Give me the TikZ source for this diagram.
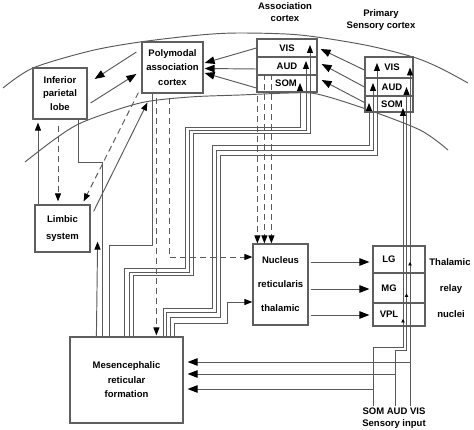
\documentclass[tikz,border=0pt]{standalone}
\usepackage{fontspec}
\setmainfont{Liberation Sans}
\usetikzlibrary{arrows.meta,calc,decorations.markings}
\definecolor{lc}{RGB}{90,90,90}
\definecolor{bc}{RGB}{95,95,95}
\begin{document}
\begin{tikzpicture}[x=1pt,y=-1pt,
  ln/.style={draw=lc,line width=0.95pt},
  arr/.style={ln,-{Triangle[length=10pt,width=7.5pt,color=black]}},
  sarr/.style={ln,-{Triangle[length=8pt,width=6pt,color=black]}},
  dsh/.style={dash pattern=on 6pt off 4pt},
  box/.style={draw=bc,line width=1.2pt,inner sep=0pt,align=center,font=\fontsize{9.5}{14.5}\selectfont\bfseries},
  row/.style={draw=bc,line width=1.2pt,inner sep=0pt,font=\fontsize{9.5}{12}\selectfont\bfseries},
  txt/.style={inner sep=0pt,align=center,font=\fontsize{9.5}{12}\selectfont\bfseries},
  dotmark/.style={postaction={decorate},decoration={markings,mark=at position #1 with {\arrow{Triangle[length=3.5pt,width=3.5pt,color=black]}}}},
]
\useasboundingbox (0,0) rectangle (474,430);

% cortex arcs
\draw[ln] plot[smooth] coordinates {(3,88) (33,68) (90,51) (140,42) (200,35) (240,33) (300,35) (365,45) (413,57) (440,68) (468,83)};
\draw[ln] plot[smooth] coordinates {(25,162) (55,139) (83,122) (140,103) (190,97) (240,95) (290,93) (317,94) (363,108) (420,130) (448,150)};

% boxes
\node[box,minimum width=54pt,minimum height=51pt,font=\fontsize{9.5}{13.5}\selectfont\bfseries] (lobe) at (60,93.5) {Inferior\\parietal\\lobe};
\node[box,minimum width=61pt,minimum height=51pt] (poly) at (172.5,67.5) {Polymodal\\association\\cortex};
\node[box,minimum width=55pt,minimum height=47pt,font=\fontsize{9.5}{17}\selectfont\bfseries] (limbic) at (62.5,228.5) {Limbic\\system};
\node[box,minimum width=113pt,minimum height=86pt] (mes) at (126.5,380) {Mesencephalic\\reticular\\formation};
\node[box,minimum width=55pt,minimum height=81pt,font=\fontsize{9.5}{24}\selectfont\bfseries] (nuc) at (280.5,284.5) {Nucleus\\reticularis\\thalamic};

\node[row,minimum width=60pt,minimum height=18pt] (aV) at (287,48) {VIS};
\node[row,minimum width=60pt,minimum height=18pt] (aA) at (287,66) {AUD};
\node[row,minimum width=60pt,minimum height=17pt] (aS) at (287,83.5) {SOM\hspace*{2pt}};

\node[row,minimum width=48pt,minimum height=21pt] (pV) at (389,67.5) {\hspace*{6pt}VIS};
\node[row,minimum width=48pt,minimum height=18pt] (pA) at (389,87) {\hspace*{6pt}AUD};
\node[row,minimum width=48pt,minimum height=16pt] (pS) at (389,104) {\hspace*{6pt}SOM};

\node[row,minimum width=52pt,minimum height=27pt] (tL) at (399,259.5) {LG\hspace*{20pt}};
\node[row,minimum width=52pt,minimum height=30pt] (tM) at (399,288) {MG\hspace*{20pt}};
\node[row,minimum width=52pt,minimum height=23pt] (tV) at (399,314.5) {VPL\hspace*{20pt}};

% labels
\node[txt] (hassoc) at (285,12) {Association\\cortex};
\node[txt] (hprim) at (381,20) {Primary\\Sensory cortex};
\node[txt] (th1) at (450,262) {Thalamic};
\node[txt] (th2) at (451,289) {relay};
\node[txt] (th3) at (451,314) {nuclei};
\node[txt] (sens) at (394,418) {SOM AUD VIS\\Sensory input};

% polymodal <-> inferior parietal
\draw[arr] ($(poly.west)+(-5,-15.5)$) -- ($(lobe.east)+(7,-14.5)$);
\draw[arr] ($(lobe.east)+(3,9.5)$) -- ($(poly.west)+(-5,6.5)$);

% association -> polymodal
\draw[arr] ($(aV.west)+(0,0)$) -- ($(poly.east)+(1,-4.5)$);
\draw[arr] ($(aA.west)+(0,3)$) -- ($(poly.east)+(1,1)$);
\draw[arr] ($(aS.west)+(0,4.5)$) -- ($(poly.east)+(1,5.5)$);

% primary -> association
\draw[arr] ($(pV.west)+(0,2.5)$) -- ($(aV.east)+(3,1)$);
\draw[arr] ($(pA.west)+(0,0)$) -- ($(aA.east)+(4,-2)$);
\draw[arr] ($(pS.west)+(0,-1.5)$) -- ($(aS.east)+(4,-3.5)$);

% inferior parietal <-> limbic
\draw[sarr,dsh] ($(lobe.south)+(-2,6)$) -- ($(limbic.north)+(-4.5,-3)$);
\draw[sarr] ($(limbic.north)+(-24.5,0)$) -- ($(lobe.south)+(-22,3)$);

% polymodal <-> limbic
\draw[sarr,dsh] ($(poly.south west)+(-3,-1)$) -- ($(limbic.north east)+(-7,-3)$);
\draw[sarr] ($(limbic.north east)+(3,7)$) -- ($(poly.south west)+(6,9)$);

% lobe -> mesencephalic, polymodal -> mesencephalic
\draw[ln] ($(lobe.south)+(18,0)$) -- ++(0,43) -| ($(mes.north west)+(33,0)$);
\draw[ln] ($(poly.south west)+(11,0)$) -- ++(0,152) -| ($(mes.north west)+(40,0)$);
% mesencephalic -> limbic
\draw[sarr] ($(mes.north west)+(27,0)$) -- ($(limbic.south east)+(7,-11)$);

% dashed from polymodal
\draw[sarr,dsh] ($(poly.south west)+(15,4)$) -- ($(mes.north west)+(87,-1)$);
\draw[sarr,dsh] ($(poly.south west)+(28,4)$) |- ($(nuc.west)+(0,-27.5)$);

% dashed from association to nucleus
\draw[sarr,dsh] ($(aA.north west)+(1,0)$) -- ($(nuc.north west)+(5,0)$);
\draw[sarr,dsh] ($(aS.north west)+(8,0)$) -- ($(nuc.north west)+(12,0)$);
\draw[sarr,dsh] ($(aS.north west)+(15,0)$) -- ($(nuc.north west)+(19,0)$);

% mesencephalic -> association cortex
\draw[sarr] ($(mes.north west)+(55,0)$) |- (185,268) |- (300,127) -- ($(aS.center)+(13,-0.5)$);
\draw[sarr] ($(mes.north west)+(60,0)$) |- (189,272) |- (306,130) -- ($(aA.center)+(19,-5)$);
\draw[sarr] ($(mes.north west)+(64,0)$) |- (193,275) |- (310,133) -- ($(aV.center)+(23,-3)$);

% mesencephalic -> primary cortex
\draw[sarr] ($(mes.north west)+(94,0)$) |- (212,308) |- (369,145) -- ($(pS.center)+(-20,-1)$);
\draw[sarr] ($(mes.north west)+(97,0)$) |- (216,312) |- (373,150) -- ($(pA.center)+(-16,-4)$);
\draw[sarr] ($(mes.north west)+(101,0)$) |- (220,317) |- (377,155) -- ($(pV.center)+(-12,-4.5)$);

% mesencephalic -> nucleus
\draw[sarr] ($(mes.north west)+(105,0)$) |- (227,323) |- ($(nuc.west)+(0,17.5)$);

% nucleus -> thalamic relay
\draw[arr] ($(nuc.east)+(2,-22.5)$) -- ($(tL.west)+(-3,2.5)$);
\draw[arr] ($(nuc.east)+(2,4.5)$) -- ($(tM.west)+(-3,1)$);
\draw[arr] ($(nuc.east)+(2,30.5)$) -- ($(tV.west)+(-3,0.5)$);

% sensory input
\coordinate (sS) at (373,406);
\coordinate (sA) at (395,406);
\coordinate (sV) at (410,406);
\draw[sarr,dotmark=144pt] (sV) -- ($(pV.center)+(21,0)$);
\draw[sarr,dotmark=124pt] (sA) |- (406.5,350) -- ($(pA.center)+(17.5,0)$);
\draw[sarr,dotmark=117pt] (sS) |- (403,347) -- ($(pS.center)+(14,4)$);

\coordinate (jV) at (410,362);
\coordinate (jA) at (395,374);
\coordinate (jS) at (373,389);
\draw[arr] (jV) -- ($(jV -| mes.east)+(4,0)$);
\draw[arr] (jA) -- ($(jA -| mes.east)+(4,0)$);
\draw[arr] (jS) -- ($(jS -| mes.east)+(4,0)$);
\end{tikzpicture}
\end{document}
